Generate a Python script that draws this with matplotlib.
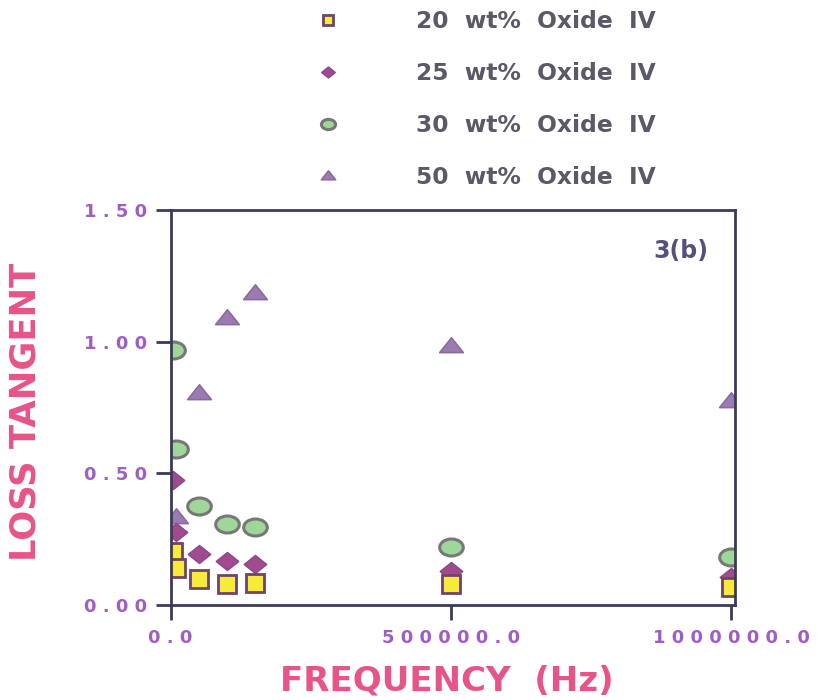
import numpy as np
import matplotlib.pyplot as plt
from matplotlib.path import Path
from matplotlib.ticker import FuncFormatter
from matplotlib.transforms import Affine2D

# frequency (Hz) and loss tangent
freq_20 = [5000, 10000, 50000, 100000, 150000, 500000, 1000000]
tan_20 = [0.202, 0.139, 0.098, 0.080, 0.082, 0.080, 0.070]

freq_25 = [5000, 10000, 50000, 100000, 150000, 500000, 1000000]
tan_25 = [0.475, 0.278, 0.194, 0.168, 0.156, 0.130, 0.105]

freq_30 = [5000, 10000, 50000, 100000, 150000, 500000, 1000000]
tan_30 = [0.968, 0.591, 0.376, 0.308, 0.297, 0.220, 0.184]

freq_50 = [10000, 50000, 100000, 150000, 500000, 1000000]
tan_50 = [0.338, 0.810, 1.095, 1.190, 0.987, 0.778]

labels = ['20  wt%  Oxide  IV', '25  wt%  Oxide  IV',
          '30  wt%  Oxide  IV', '50  wt%  Oxide  IV']

# squashed markers (the scan makes them wider than tall)
ellipse = Path.unit_circle().transformed(Affine2D().scale(1.0, 0.72))
tri = Path([(-1, -0.6), (0, 0.65), (1, -0.6), (-1, -0.6)],
           [Path.MOVETO, Path.LINETO, Path.LINETO, Path.CLOSEPOLY])
dia = Path([(-1, 0), (0, 0.8), (1, 0), (0, -0.8), (-1, 0)],
           [Path.MOVETO, Path.LINETO, Path.LINETO, Path.LINETO, Path.CLOSEPOLY])

fig = plt.figure(figsize=(8.17, 7.0), dpi=100)
ax = fig.add_axes([0.2087, 0.1357, 0.8996 - 0.2087, 0.5643])

spine_c = '#3b3a5c'
tick_c = '#a05ec4'
label_c = '#e8538a'

h50, = ax.plot(freq_50, tan_50, ls='none', marker=tri, ms=17,
               mfc='#9b7bb0', mec='#8a6aa0', mew=1.2)
h30, = ax.plot(freq_30, tan_30, ls='none', marker=ellipse, ms=17,
               mfc='#9fd79a', mec='#777777', mew=2.2)
h25, = ax.plot(freq_25, tan_25, ls='none', marker=dia, ms=16,
               mfc='#a24a90', mec='#8c4a8c', mew=1.2)
h20, = ax.plot(freq_20, tan_20, ls='none', marker='s', ms=12.5,
               mfc='#f7ea3a', mec='#6e4468', mew=2.0)

ax.set_xlim(0, 1007000)
ax.set_ylim(0, 1.5)
ax.set_xticks([0, 500000, 1000000])
ax.set_yticks([0.0, 0.5, 1.0, 1.5])


def spaced(fmt):
    # the original tick labels are letter-spaced
    return FuncFormatter(lambda v, p: ' '.join(fmt.format(v)))


ax.xaxis.set_major_formatter(spaced('{:.1f}'))
ax.yaxis.set_major_formatter(spaced('{:.2f}'))

for s in ax.spines.values():
    s.set_color(spine_c)
    s.set_linewidth(2)
ax.tick_params(direction='out', length=11, width=2, color=spine_c,
               labelcolor=tick_c, labelsize=13)
ax.tick_params(axis='y', pad=6)
ax.tick_params(axis='x', pad=6)
for t in ax.get_xticklabels() + ax.get_yticklabels():
    t.set_fontweight('bold')
    t.set_family('DejaVu Sans')

ax.set_xlabel('FREQUENCY  (Hz)', fontsize=24.5, fontweight='bold',
              color=label_c, family='DejaVu Sans')
ax.xaxis.set_label_coords(0.49, -0.15)
ax.set_ylabel('LOSS TANGENT', fontsize=25.5, fontweight='bold',
              color=label_c, family='DejaVu Sans')
ax.yaxis.set_label_coords(-0.226, 0.49)

ax.text(0.905, 0.895, '3(b)', transform=ax.transAxes, fontsize=17,
        fontweight='bold', color='#57507e', ha='center', va='center',
        family='DejaVu Sans')

leg = ax.legend([h20, h25, h30, h50], labels, loc='upper left',
                bbox_to_anchor=(0.3868, 0.985), bbox_transform=fig.transFigure,
                frameon=False, markerscale=0.6, handlelength=1.0,
                handletextpad=3.3, labelspacing=1.23, borderpad=0,
                borderaxespad=0, prop={'family': 'DejaVu Sans',
                                       'weight': 'bold', 'size': 16.8})
for t in leg.get_texts():
    t.set_color('#5c5868')

fig.savefig('out.png', dpi=100, facecolor='white')
